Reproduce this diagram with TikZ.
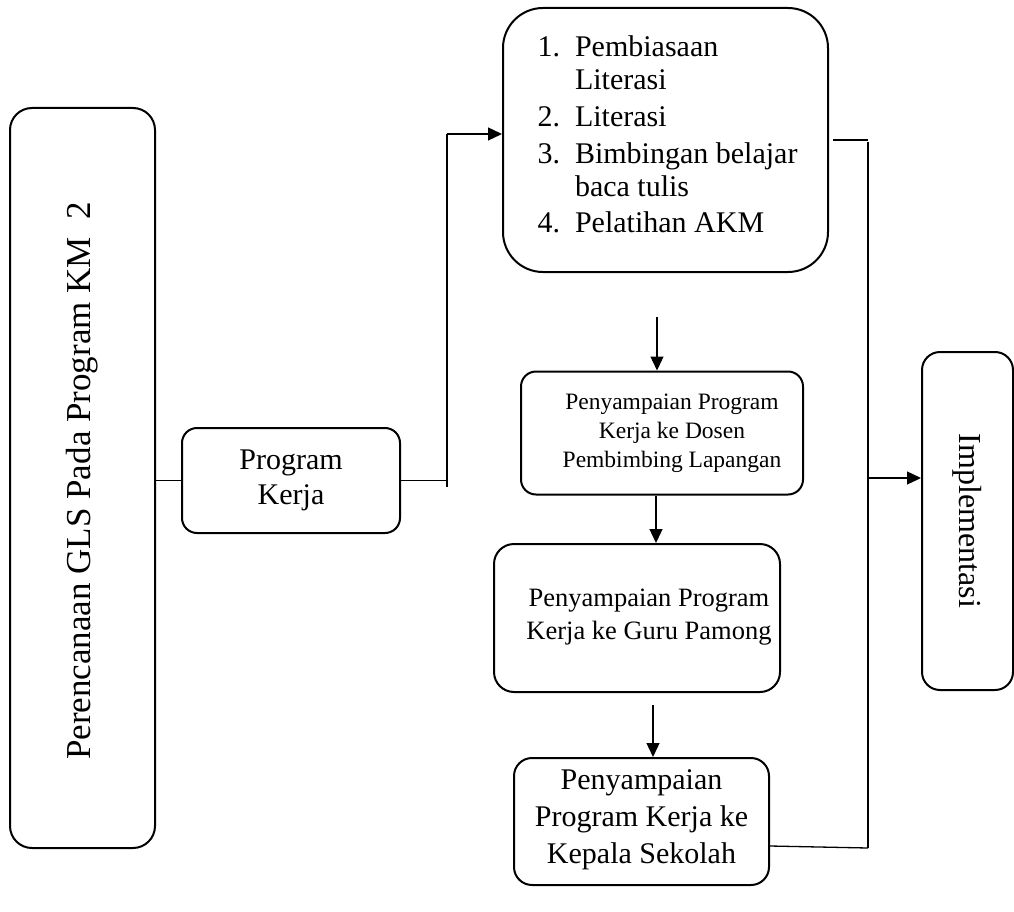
\documentclass[tikz,border=0pt]{standalone}
\usepackage{fontspec}
\setmainfont{Liberation Serif}
\usetikzlibrary{arrows.meta,calc}
\begin{document}
\begin{tikzpicture}[x=1pt,y=-1pt,
  box/.style={draw, line width=2pt, inner sep=0pt, align=center, anchor=center},
  conn/.style={line width=1.3pt},
  arr/.style={line width=1.3pt, -{Triangle[length=14pt,width=13pt]}}]
\useasboundingbox (0,0) rectangle (1014,912);

% left tall box
\node[box, rounded corners=22pt, rotate=90, minimum width=740pt, minimum height=145pt,
  font={\fontsize{35}{44}\selectfont}] (L) at (82.5,478)
  {Perencanaan GLS Pada Program KM\ \ 2\hspace*{6pt}};

% program kerja
\node[box, rounded corners=15pt, minimum width=218pt, minimum height=105pt,
  font={\fontsize{30}{35}\selectfont}] (P) at (291,480.5)
  {Program\\Kerja};

% top list box
\node[box, rounded corners=40pt, minimum width=325pt, minimum height=264pt,
  font={\fontsize{30}{33}\selectfont}] (T) at (665.5,140)
  {\hspace*{4pt}\begin{tabular}{@{}l@{\hspace{15pt}}l@{}}
  1. & Pembiasaan\\
     & Literasi\\[4pt]
  2. & Literasi\\[4pt]
  3. & Bimbingan belajar\\
     & baca tulis\\[3pt]
  4. & Pelatihan AKM
  \end{tabular}\\[4pt]\mbox{}};

% dosen box
\node[box, rounded corners=15pt, minimum width=282pt, minimum height=123pt,
  font={\fontsize{23.5}{29}\selectfont}] (D) at (662,433)
  {\hspace*{20pt}Penyampaian Program\\\hspace*{20pt}Kerja ke Dosen\\\hspace*{20pt}Pembimbing Lapangan};

% guru box
\node[box, rounded corners=20pt, minimum width=286pt, minimum height=148pt,
  font={\fontsize{26.5}{33}\selectfont}] (G) at (637,618)
  {\hspace*{24pt}Penyampaian Program\\\hspace*{24pt}Kerja ke Guru Pamong\\[-26pt]\mbox{}};

% kepala box
\node[box, rounded corners=18pt, minimum width=255pt, minimum height=127pt,
  font={\fontsize{30}{37}\selectfont}] (K) at (641.5,821.5)
  {Penyampaian\\Program Kerja ke\\Kepala Sekolah\\[-28pt]\mbox{}};

% implementasi box
\node[box, rounded corners=18pt, rotate=-90, minimum width=338pt, minimum height=91pt,
  font={\fontsize{32}{38}\selectfont}] (I) at (967.5,521)
  {Implementasi};

% helper coordinates
\coordinate (j1) at (447,487);
\coordinate (j2) at (447,134);
\coordinate (a1) at (657,317);
\coordinate (a2) at (656,0);
\coordinate (a3) at (653,705);
\coordinate (r1) at (868,142);
\coordinate (r2) at (868,848);
\coordinate (r3) at (868,478);

% connectors
\draw[conn] (P.west) -- (P.west -| L.south);
\draw[conn] (P.east) -- (P.east -| j1);
\draw[conn] (j1) -- (j2);
\draw[arr] (j2) -- (j2 -| T.west);
\draw[arr] (a1) -- (a1 |- D.north);
\draw[arr] (D.south -| a2) -- (G.north -| a2);
\draw[arr] (a3) -- (a3 |- K.north);
\draw[conn] ([xshift=4pt]T.east) -- (T.east -| r1);
\draw[conn] (r1) -- (r2);
\draw[conn] ($(K.east)+(0,24.5)$) -- (r2);
\draw[arr] (r3) -- (r3 -| I.south);
\end{tikzpicture}
\end{document}
